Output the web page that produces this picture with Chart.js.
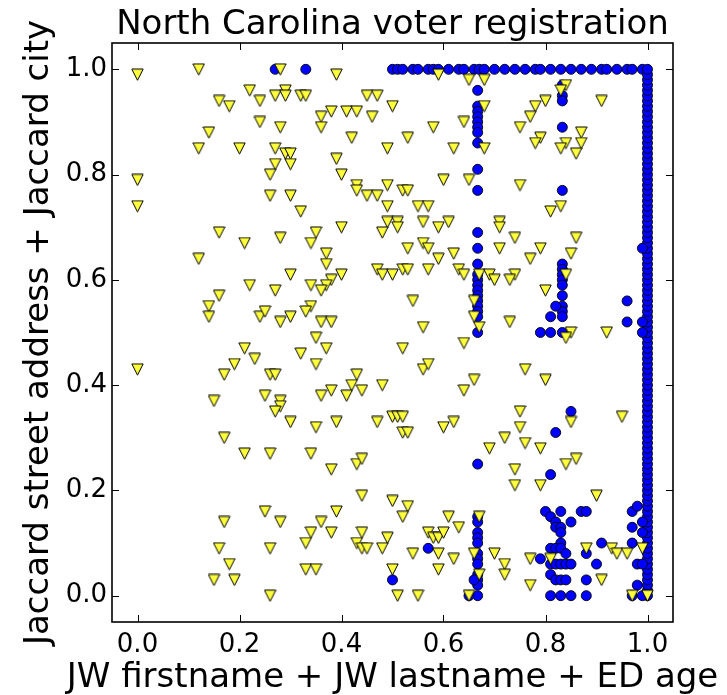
<!DOCTYPE html>
<html>
<head>
<meta charset="utf-8">
<script src="https://cdn.jsdelivr.net/npm/chart.js@4.4.1/dist/chart.umd.min.js"></script>
<style>
    html, body { margin: 0; padding: 0; background: #ffffff; }
    canvas { display: block; }
</style>
</head>
<body>
<canvas id="chart" width="727" height="695"></canvas>
<script>
const titleText = 'North Carolina voter registration'
const xLabel = 'JW firstname + JW lastname + ED age'
const yLabel = 'Jaccard street address + Jaccard city'
const xTicks = [0.0, 0.2, 0.4, 0.6, 0.8, 1.0]
const yTicks = [0.0, 0.2, 0.4, 0.6, 0.8, 1.0]

// non-matching pairs (yellow triangles)
const nonMatchX = [
    0.00, 0.12, 0.28, 0.22, 0.16, 0.18, 0.24, 0.27, 0.29, 0.29, 0.32, 0.33, 0.24, 0.28, 0.14, 0.12,
    0.20, 0.27, 0.29, 0.30, 0.27, 0.30, 0.26, 0.00, 0.26, 0.30, 0.00, 0.32, 0.16, 0.21, 0.28, 0.12,
    0.30, 0.22, 0.27, 0.16, 0.14, 0.14, 0.24, 0.25, 0.28, 0.30,
    0.39, 0.59, 0.65, 0.68, 0.45, 0.47, 0.50, 0.36, 0.38, 0.41, 0.43, 0.46, 0.36, 0.58, 0.64, 0.68,
    0.42, 0.53, 0.49, 0.62, 0.68, 0.39, 0.40, 0.43, 0.43, 0.45, 0.47, 0.49, 0.52, 0.53, 0.60, 0.65,
    0.49, 0.55, 0.57, 0.49, 0.51, 0.51, 0.48, 0.56, 0.59, 0.61, 0.40, 0.35, 0.34, 0.53, 0.56, 0.57,
    0.59, 0.62, 0.37, 0.37, 0.40, 0.38, 0.37, 0.36, 0.34, 0.47, 0.48, 0.50, 0.52, 0.53, 0.57, 0.63,
    0.64, 0.67, 0.69, 0.34, 0.33, 0.54, 0.66, 0.66, 0.36, 0.38, 0.56, 0.67, 0.35,
    0.84, 0.83, 0.80, 0.78, 0.77, 0.75, 0.91, 0.79, 0.78, 0.87, 0.87, 0.84, 0.83, 0.86, 0.75, 0.81,
    0.83, 0.71, 0.71, 0.74, 0.71, 0.79, 0.77, 0.86, 0.85, 0.70, 0.74, 0.73, 0.84, 0.80, 0.73, 0.85,
    0.84, 0.92,
    0.00, 0.21, 0.23, 0.19, 0.17, 0.26, 0.27, 0.15, 0.25, 0.28, 0.28, 0.27, 0.30, 0.17, 0.21, 0.26,
    0.25, 0.17, 0.28, 0.16, 0.26, 0.18, 0.15, 0.19, 0.26,
    0.37, 0.32, 0.35, 0.52, 0.64, 0.43, 0.42, 0.38, 0.36, 0.41, 0.44, 0.48, 0.56, 0.57, 0.66, 0.64,
    0.35, 0.39, 0.47, 0.50, 0.51, 0.52, 0.52, 0.53, 0.60, 0.62, 0.69, 0.34, 0.38, 0.43, 0.44, 0.44,
    0.50, 0.53, 0.52, 0.61, 0.63, 0.39, 0.36, 0.34, 0.33, 0.38, 0.44, 0.43, 0.44, 0.45, 0.49, 0.48,
    0.57, 0.58, 0.59, 0.60, 0.54, 0.59, 0.62, 0.66, 0.67, 0.33, 0.35, 0.50, 0.59, 0.51, 0.55, 0.65,
    0.67,
    0.76, 0.80, 0.75, 0.85, 0.95, 0.75, 0.72, 0.76, 0.79, 0.74, 0.84, 0.86, 0.74, 0.79, 0.90, 0.70,
    0.72, 0.72, 0.77, 0.81, 0.77, 0.88, 0.91, 0.93, 0.94, 0.96, 0.99, 0.97, 1.00
]
const nonMatchY = [
    0.99, 1.00, 1.00, 0.96, 0.94, 0.93, 0.94, 0.95, 0.96, 0.95, 0.95, 0.95, 0.90, 0.89, 0.88, 0.85,
    0.85, 0.85, 0.84, 0.84, 0.82, 0.82, 0.80, 0.79, 0.76, 0.76, 0.74, 0.73, 0.69, 0.67, 0.68, 0.64,
    0.61, 0.59, 0.58, 0.57, 0.55, 0.53, 0.53, 0.54, 0.52, 0.53,
    0.99, 0.99, 0.98, 0.98, 0.95, 0.95, 0.93, 0.91, 0.92, 0.92, 0.92, 0.91, 0.89, 0.89, 0.90, 0.93,
    0.87, 0.87, 0.85, 0.85, 0.85, 0.83, 0.80, 0.78, 0.77, 0.76, 0.76, 0.78, 0.77, 0.77, 0.79, 0.79,
    0.74, 0.74, 0.74, 0.71, 0.71, 0.70, 0.69, 0.71, 0.70, 0.71, 0.70, 0.69, 0.67, 0.66, 0.67, 0.66,
    0.64, 0.65, 0.65, 0.63, 0.61, 0.60, 0.59, 0.58, 0.59, 0.62, 0.61, 0.61, 0.62, 0.62, 0.62, 0.62,
    0.61, 0.61, 0.61, 0.55, 0.54, 0.56, 0.56, 0.53, 0.52, 0.52, 0.51, 0.51, 0.49,
    0.97, 0.96, 0.94, 0.93, 0.91, 0.89, 0.94, 0.87, 0.86, 0.88, 0.86, 0.86, 0.85, 0.84, 0.78, 0.73,
    0.74, 0.71, 0.70, 0.68, 0.66, 0.66, 0.64, 0.68, 0.65, 0.60, 0.61, 0.60, 0.61, 0.58, 0.52, 0.50,
    0.49, 0.50,
    0.43, 0.47, 0.45, 0.44, 0.42, 0.42, 0.42, 0.37, 0.38, 0.37, 0.36, 0.35, 0.33, 0.30, 0.27, 0.27,
    0.16, 0.14, 0.14, 0.09, 0.09, 0.06, 0.03, 0.03, 0.00,
    0.47, 0.46, 0.44, 0.47, 0.48, 0.42, 0.40, 0.39, 0.38, 0.38, 0.39, 0.40, 0.43, 0.44, 0.41, 0.39,
    0.32, 0.33, 0.33, 0.34, 0.34, 0.34, 0.31, 0.31, 0.32, 0.33, 0.28, 0.27, 0.24, 0.25, 0.26, 0.19,
    0.18, 0.17, 0.15, 0.15, 0.13, 0.16, 0.14, 0.12, 0.10, 0.12, 0.12, 0.10, 0.09, 0.09, 0.11, 0.09,
    0.12, 0.11, 0.11, 0.12, 0.08, 0.08, 0.07, 0.08, 0.04, 0.05, 0.05, 0.05, 0.05, 0.00, 0.00, 0.00,
    0.15,
    0.43, 0.41, 0.35, 0.33, 0.34, 0.32, 0.30, 0.29, 0.28, 0.24, 0.25, 0.26, 0.21, 0.21, 0.19, 0.08,
    0.06, 0.04, 0.07, 0.07, 0.02, 0.09, 0.03, 0.09, 0.08, 0.08, 0.09, 0.00, 0.00
]

// matching pairs (blue circles)
const matchTopX = [
    0.50, 0.51, 0.52, 0.54, 0.55, 0.57, 0.58, 0.59, 0.61, 0.63, 0.64, 0.66, 0.67, 0.68, 0.70, 0.72,
    0.74, 0.76, 0.78, 0.79, 0.81, 0.83, 0.85, 0.87, 0.89, 0.91, 0.92, 0.94, 0.96, 0.97, 0.99
]
const matchRightY = [
    0.00, 0.01, 0.02, 0.03, 0.04, 0.05, 0.06, 0.07, 0.08, 0.09, 0.10, 0.11, 0.12, 0.13, 0.14, 0.15,
    0.16, 0.17, 0.18, 0.19, 0.20, 0.21, 0.22, 0.23, 0.24, 0.25, 0.26, 0.27, 0.28, 0.29, 0.30, 0.31,
    0.32, 0.33, 0.34, 0.35, 0.36, 0.37, 0.38, 0.39, 0.40, 0.41, 0.42, 0.43, 0.44, 0.45, 0.46, 0.47,
    0.48, 0.49, 0.50, 0.51, 0.52, 0.53, 0.54, 0.55, 0.56, 0.57, 0.58, 0.59, 0.60, 0.61, 0.62, 0.63,
    0.64, 0.65, 0.66, 0.67, 0.68, 0.69, 0.70, 0.71, 0.72, 0.73, 0.74, 0.75, 0.76, 0.77, 0.78, 0.79,
    0.80, 0.81, 0.82, 0.83, 0.84, 0.85, 0.86, 0.87, 0.88, 0.89, 0.90, 0.91, 0.92, 0.93, 0.94, 0.95,
    0.96, 0.97, 0.98, 0.99, 1.00
]
const matchTwoThirdsY = [
    0.96, 0.93, 0.92, 0.91, 0.90, 0.89, 0.88, 0.86, 0.81, 0.77, 0.69, 0.66, 0.63, 0.61, 0.60, 0.59,
    0.58, 0.57, 0.56, 0.55, 0.54, 0.53, 0.50, 0.25, 0.15, 0.14, 0.12, 0.11, 0.10, 0.08, 0.07, 0.06,
    0.04, 0.03, 0.02, 0.00
]
const matchFiveSixthsY = [
    0.97, 0.95, 0.94, 0.89, 0.77, 0.63, 0.62, 0.61, 0.60, 0.59, 0.57, 0.55, 0.54, 0.53, 0.50
]
const matchX = [
    0.27, 0.33, 0.65, 0.66, 0.57, 0.50,
    0.82, 0.81, 0.79, 0.81, 0.96, 0.96, 0.99, 0.99, 0.99,
    0.85, 0.82, 0.81, 0.80, 0.83, 0.81, 0.82, 0.85, 0.87, 0.88, 0.82, 0.83, 0.83, 0.83, 0.81, 0.82,
    0.83, 0.84, 0.79, 0.88, 0.91, 0.90, 0.81, 0.82, 0.83, 0.84, 0.85, 0.81, 0.82, 0.83, 0.84, 0.88,
    0.81, 0.83, 0.85, 0.88,
    0.97, 0.98, 0.97, 0.97, 0.98, 0.99, 0.98, 0.97, 0.99, 0.99, 0.99
]
const matchY = [
    1.00, 1.00, 0.00, 0.03, 0.09, 0.03,
    0.55, 0.53, 0.50, 0.50, 0.56, 0.52, 0.66, 0.52, 0.50,
    0.35, 0.31, 0.23, 0.16, 0.16, 0.15, 0.14, 0.14, 0.16, 0.16, 0.13, 0.13, 0.12, 0.10, 0.09, 0.09,
    0.09, 0.08, 0.07, 0.08, 0.10, 0.06, 0.06, 0.06, 0.06, 0.06, 0.06, 0.04, 0.03, 0.03, 0.03, 0.03,
    0.00, 0.00, 0.00, 0.00,
    0.16, 0.17, 0.13, 0.10, 0.06, 0.06, 0.02, 0.00, 0.00, 0.14, 0.12
]

const family = "'DejaVu Sans', sans-serif"

function triangleMarker(size, fill) {
    let c = document.createElement('canvas')
    c.width = size + 2
    c.height = size + 2
    let g = c.getContext('2d')
    g.beginPath()
    g.moveTo(0.8, 1)
    g.lineTo(size + 1.2, 1)
    g.lineTo(size / 2 + 1, size + 1.2)
    g.closePath()
    g.fillStyle = fill
    g.fill()
    g.lineWidth = 1
    g.strokeStyle = '#000000'
    g.stroke()
    return c
}

function matchPoints() {
    let pts = []
    matchTopX.forEach(x => pts.push({x: x, y: 1.0}))
    matchRightY.forEach(y => pts.push({x: 1.0, y: y}))
    matchTwoThirdsY.forEach(y => pts.push({x: 0.667, y: y}))
    matchFiveSixthsY.forEach(y => pts.push({x: 0.833, y: y}))
    for (let i = 0; i < matchX.length; i++) pts.push({x: matchX[i], y: matchY[i]})
    return pts
}

// axis box with inward ticks on all four sides, the title and the axis labels
const frame = {
    id: 'frame',
    afterDatasetsDraw(chart) {
        const {ctx, chartArea: a, scales: {x, y}} = chart
        const len = 7
        ctx.save()
        ctx.strokeStyle = '#000000'
        ctx.lineWidth = 1
        ctx.beginPath()
        xTicks.forEach(v => {
            const px = Math.round(x.getPixelForValue(v)) + 0.5
            ctx.moveTo(px, a.bottom); ctx.lineTo(px, a.bottom - len)
            ctx.moveTo(px, a.top); ctx.lineTo(px, a.top + len)
        })
        yTicks.forEach(v => {
            const py = Math.round(y.getPixelForValue(v)) + 0.5
            ctx.moveTo(a.left, py); ctx.lineTo(a.left + len, py)
            ctx.moveTo(a.right, py); ctx.lineTo(a.right - len, py)
        })
        ctx.stroke()
        ctx.lineWidth = 1.6
        ctx.strokeRect(a.left, a.top, a.right - a.left, a.bottom - a.top)
        ctx.restore()
    },
    afterDraw(chart) {
        const {ctx, chartArea: a} = chart
        const cx = (a.left + a.right) / 2
        ctx.save()
        ctx.fillStyle = '#000000'
        ctx.textAlign = 'center'
        ctx.textBaseline = 'alphabetic'
        ctx.font = '34px ' + family
        ctx.fillText(titleText, cx, 34)
        ctx.fillText(xLabel, cx, 687)
        ctx.translate(48, (a.top + a.bottom) / 2)
        ctx.rotate(-Math.PI / 2)
        ctx.fillText(yLabel, 0, 0)
        ctx.restore()
    }
}

const ctx = document.getElementById('chart')

new Chart(ctx, {
    type: 'scatter',
    data: {
        datasets: [{
            label: 'non-match',
            data: nonMatchX.map((x, i) => ({x: x, y: nonMatchY[i]})),
            pointStyle: triangleMarker(11, '#ffff3c'),
            pointRadius: 6
        }, {
            label: 'match',
            data: matchPoints(),
            pointStyle: 'circle',
            pointRadius: 5,
            borderWidth: 0.9,
            borderColor: '#000000',
            backgroundColor: '#0000ff'
        }]
    },
    options: {
        responsive: false,
        animation: false,
        devicePixelRatio: 1,
        events: [],
        layout: {
            padding: {left: 0, right: 54, top: 43, bottom: 0}
        },
        scales: {
            x: {
                type: 'linear',
                min: -0.05,
                max: 1.05,
                afterBuildTicks: s => { s.ticks = xTicks.map(v => ({value: v})) },
                afterFit: s => { s.height = 73 },
                grid: {display: false, drawTicks: false},
                border: {display: false},
                ticks: {
                    color: '#000000',
                    font: {family: family, size: 26},
                    padding: 8,
                    maxRotation: 0,
                    autoSkip: false,
                    callback: v => v.toFixed(1)
                }
            },
            y: {
                type: 'linear',
                min: -0.05,
                max: 1.05,
                afterBuildTicks: s => { s.ticks = yTicks.map(v => ({value: v})) },
                afterFit: s => { s.width = 112 },
                grid: {display: false, drawTicks: false},
                border: {display: false},
                ticks: {
                    color: '#000000',
                    font: {family: family, size: 26},
                    padding: 5,
                    autoSkip: false,
                    callback: v => v.toFixed(1)
                }
            }
        },
        plugins: {
            legend: {display: false},
            tooltip: {enabled: false},
            title: {display: false}
        }
    },
    plugins: [frame]
})
</script>
</body>
</html>
